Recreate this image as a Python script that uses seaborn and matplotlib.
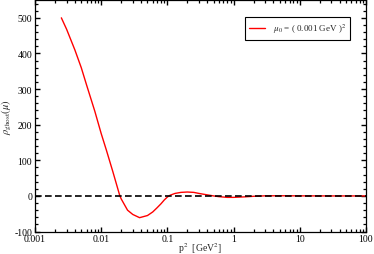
import numpy as np
import pandas as pd
import matplotlib.pyplot as plt
import seaborn as sns
from matplotlib.ticker import FixedLocator, MultipleLocator, NullFormatter

# data
p2 = [0.0025, 0.003, 0.004, 0.005, 0.006, 0.008, 0.01, 0.012, 0.015, 0.019, 0.02,
      0.025, 0.03, 0.038, 0.05, 0.06, 0.07, 0.08, 0.09, 0.1, 0.11, 0.13, 0.16, 0.2,
      0.25, 0.3, 0.4, 0.5, 0.6, 0.8, 1.0, 1.5, 2.0, 3.0, 5.0, 10.0, 30.0, 100.0]
rho = [500, 468, 410, 360, 312, 238, 175, 128, 68, 2, -8,
       -40, -52, -61, -55, -45, -33, -22, -11, -3, 2, 7, 10, 11,
       10, 7, 3, 0, -2, -4, -4, -2.5, -1, 0.3, 0.5, 0.2, 0, 0]
x_ticks = [0.001, 0.01, 0.1, 1, 10, 100]
x_labels = ['0.001', '0.01', '0.1', '1', '10', '100']
y_ticks = [-100, 0, 100, 200, 300, 400, 500]
legend_label = r'$\mu_0$ = ( 0.001 GeV )$^2$'

df = pd.DataFrame({'p2': p2, 'rho': rho})

sns.set_style('ticks')
plt.rcParams['font.family'] = ['Liberation Serif', 'DejaVu Serif']
plt.rcParams['mathtext.fontset'] = 'stix'

fig = plt.figure(figsize=(3.74, 2.55), dpi=100)
ax = fig.add_axes([0.0936, 0.088, 0.885, 0.908])

sns.lineplot(data=df, x='p2', y='rho', ax=ax, color='red', lw=1.0,
             label=legend_label, zorder=2)
ax.axhline(0, color='black', lw=1.2, ls=(0, (4, 2)), zorder=3)

ax.set_xscale('log')
ax.set_xlim(0.001, 100)
ax.set_ylim(-100, 550)
ax.set_xticks(x_ticks)
ax.set_xticklabels(x_labels)
minor_x = [m * 10.0 ** e for e in range(-3, 2) for m in range(2, 10)]
ax.xaxis.set_minor_locator(FixedLocator(minor_x))
ax.xaxis.set_minor_formatter(NullFormatter())
ax.set_yticks(y_ticks)
ax.set_yticklabels([str(v) for v in y_ticks])
ax.yaxis.set_minor_locator(MultipleLocator(20))

ax.tick_params(which='both', direction='in', top=True, right=True, labelsize=7,
               pad=2, color='black', labelcolor='black')
ax.tick_params(which='major', length=3.5, width=1.0)
ax.tick_params(which='minor', length=2.3, width=0.9)
for s in ax.spines.values():
    s.set_linewidth(0.9)
    s.set_color('black')

ax.set_xlabel(r'p$^2$  [GeV$^2$]', fontsize=7)
ax.xaxis.set_label_coords(0.5, -0.036)
ax.set_ylabel(r'$\rho_{\rm ghost}(\mu)$', fontsize=7.5)
ax.yaxis.set_label_coords(-0.062, 0.5)

leg = ax.legend(loc='upper right', fontsize=6.5, frameon=True, fancybox=False,
                edgecolor='black', framealpha=1, handlelength=1.8,
                bbox_to_anchor=(0.953, 0.925), borderpad=0.5, borderaxespad=0)
leg.get_frame().set_linewidth(0.8)

plt.savefig('out.png', dpi=100)
